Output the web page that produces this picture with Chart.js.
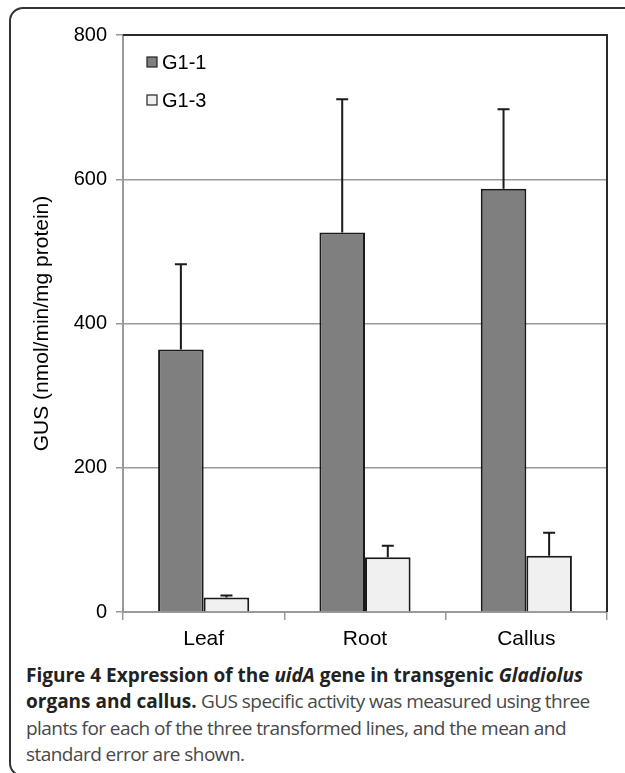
<!DOCTYPE html>
<html>
<head>
<meta charset="utf-8">
<script src="https://cdn.jsdelivr.net/npm/chart.js@4.4.0/dist/chart.umd.min.js"></script>
<style>
  html, body { margin: 0; padding: 0; background: #fff; }
  body { width: 625px; height: 773px; position: relative; overflow: hidden; }
  #frame {
    position: absolute; left: 9px; top: 7px; width: 640px; height: 770px;
    border: 2px solid #333; border-radius: 14px; box-sizing: border-box;
  }
  #wrap { position: absolute; left: 0; top: 0; width: 625px; height: 660px; }
  #caption {
    position: absolute; left: 26px; top: 662px; white-space: nowrap;
    font-family: "Open Sans", sans-serif; font-size: 19px; line-height: 26.3px;
    color: #484848; letter-spacing: -0.55px;
  }
  #caption b { color: #222; letter-spacing: 0; }
</style>
</head>
<body>
<div id="frame"></div>
<div id="wrap"><canvas id="chart" width="625" height="660"></canvas></div>
<div id="caption">
  <b>Figure 4 Expression of the <i>uidA</i> gene in transgenic <i>Gladiolus</i></b><br>
  <b>organs and callus.</b> GUS specific activity was measured using three<br>
  plants for each of the three transformed lines, and the mean and<br>
  standard error are shown.
</div>
<script>
// ===== DADOS =====
const categorias = ['Leaf', 'Root', 'Callus'];
const g11 = [364, 526, 587];
const g13 = [20, 76, 78];
const erroG11 = [118, 185, 110];
const erroG13 = [3, 16, 32];
const yTicks = [0, 200, 400, 600, 800];

const fonte = '"Liberation Sans", Arial, sans-serif';

// ===== BARRAS DE ERRO =====
const barrasErro = {
  id: 'barrasErro',
  afterDatasetsDraw(chart) {
    const ctx = chart.ctx;
    const y = chart.scales.y;
    chart.data.datasets.forEach((ds, i) => {
      const meta = chart.getDatasetMeta(i);
      meta.data.forEach((bar, j) => {
        const topo = y.getPixelForValue(ds.data[j] + ds.erros[j]);
        ctx.save();
        ctx.strokeStyle = '#1a1a1a';
        ctx.lineWidth = 2;
        ctx.beginPath();
        ctx.moveTo(bar.x, bar.y);
        ctx.lineTo(bar.x, topo);
        ctx.moveTo(bar.x - 6, topo);
        ctx.lineTo(bar.x + 6, topo);
        ctx.stroke();
        ctx.restore();
      });
    });
  }
};

// ===== MOLDURA + LEGENDA =====
const moldura = {
  id: 'moldura',
  afterDraw(chart) {
    const { ctx, chartArea: a } = chart;
    ctx.save();
    ctx.strokeStyle = '#2a2a2a';
    ctx.lineWidth = 2;
    ctx.beginPath();
    ctx.moveTo(a.left, a.top);
    ctx.lineTo(a.right, a.top);
    ctx.lineTo(a.right, a.bottom);
    ctx.stroke();

    ctx.font = '20px ' + fonte;
    ctx.textBaseline = 'middle';
    chart.data.datasets.forEach((ds, i) => {
      const cy = a.top + 27 + i * 38;
      ctx.fillStyle = ds.backgroundColor;
      ctx.fillRect(a.left + 24, cy - 5, 10, 10);
      ctx.strokeStyle = '#222';
      ctx.lineWidth = 1.2;
      ctx.strokeRect(a.left + 24, cy - 5, 10, 10);
      ctx.fillStyle = '#000';
      ctx.fillText(ds.label, a.left + 39, cy + 1);
    });
    ctx.restore();
  }
};

new Chart(document.getElementById('chart'), {
  type: 'bar',
  data: {
    labels: categorias,
    datasets: [
      { label: 'G1-1', data: g11, erros: erroG11, backgroundColor: '#7f7f7f', borderColor: '#1a1a1a', borderWidth: 2 },
      { label: 'G1-3', data: g13, erros: erroG13, backgroundColor: '#f0f0f0', borderColor: '#1a1a1a', borderWidth: 2 }
    ]
  },
  options: {
    responsive: false,
    animation: false,
    layout: { padding: { left: 0, top: 35, right: 18, bottom: 0 } },
    categoryPercentage: 0.565,
    barPercentage: 1,
    plugins: { legend: { display: false }, tooltip: { enabled: false } },
    scales: {
      x: {
        afterFit: s => { s.height = 48; },
        grid: { drawOnChartArea: false, color: '#999', lineWidth: 1.5, tickLength: 8, offset: true },
        border: { color: '#999', width: 2 },
        ticks: { color: '#000', padding: 7, font: { family: fonte, size: 21 } }
      },
      y: {
        min: 0, max: 800,
        afterFit: s => { s.width = 123; },
        afterBuildTicks: s => { s.ticks = yTicks.map(v => ({ value: v })); },
        grid: { color: '#999', lineWidth: 1.5, tickLength: 7 },
        border: { color: '#999', width: 2 },
        ticks: { color: '#000', padding: 9, font: { family: fonte, size: 20 } },
        title: {
          display: true, text: 'GUS (nmol/min/mg protein)', color: '#000',
          font: { family: fonte, size: 21 }, padding: { top: 30, bottom: 0 }
        }
      }
    }
  },
  plugins: [barrasErro, moldura]
});
</script>
</body>
</html>
